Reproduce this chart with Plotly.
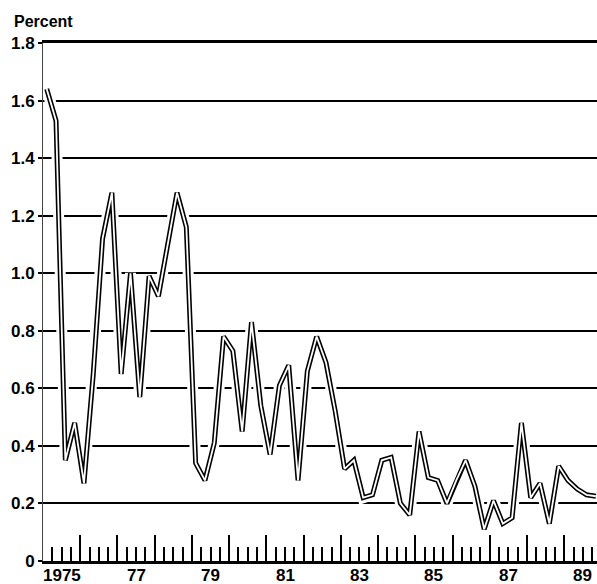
import plotly.graph_objects as go

# Quarterly data, 1975Q1 - 1989Q4 (percent)
years = list(range(1975, 1990))
quarters = [1, 2, 3, 4]
values = [
    1.64, 1.53, 0.35, 0.48,   # 1975
    0.27, 0.65, 1.12, 1.28,   # 1976
    0.65, 1.00, 0.57, 0.99,   # 1977
    0.92, 1.10, 1.28, 1.16,   # 1978
    0.34, 0.28, 0.41, 0.78,   # 1979
    0.73, 0.45, 0.83, 0.54,   # 1980
    0.37, 0.61, 0.68, 0.28,   # 1981
    0.66, 0.78, 0.69, 0.52,   # 1982
    0.32, 0.35, 0.22, 0.23,   # 1983
    0.35, 0.36, 0.20, 0.16,   # 1984
    0.45, 0.29, 0.28, 0.20,   # 1985
    0.28, 0.35, 0.26, 0.11,   # 1986
    0.21, 0.13, 0.15, 0.48,   # 1987
    0.22, 0.27, 0.13, 0.33,   # 1988
    0.28, 0.25, 0.23, 0.225,  # 1989
]
y_tickvals = [0, 0.2, 0.4, 0.6, 0.8, 1.0, 1.2, 1.4, 1.6, 1.8]
y_ticktext = ["0", "0.2", "0.4", "0.6", "0.8", "1.0", "1.2", "1.4", "1.6", "1.8"]
x_label_years = [1975, 1977, 1979, 1981, 1983, 1985, 1987, 1989]
x_label_text = ["1975", "77", "79", "81", "83", "85", "87", "89"]

# position each quarterly observation within its year
x = [yr + (q - 1) * 0.25 + 0.1 for yr in years for q in quarters]

FONT = "Liberation Sans, Arial, Helvetica, sans-serif"

fig = go.Figure()
# white halo that interrupts the gridlines around the line
fig.add_trace(go.Scatter(x=x, y=values, mode="lines",
                         line=dict(color="white", width=11), hoverinfo="skip"))
# hollow double line: thick black with white core
fig.add_trace(go.Scatter(x=x, y=values, mode="lines",
                         line=dict(color="black", width=5)))
fig.add_trace(go.Scatter(x=x, y=values, mode="lines",
                         line=dict(color="white", width=1.8), hoverinfo="skip"))

for yr, txt in zip(x_label_years, x_label_text):
    fig.add_annotation(x=yr + 0.5, y=0, xref="x", yref="paper", text=txt,
                       showarrow=False, yanchor="top", yshift=-3,
                       font=dict(family=FONT, size=17, color="black", weight="bold"))

fig.add_annotation(x=-0.056, y=1.042, xref="paper", yref="paper", text="Percent",
                   showarrow=False, xanchor="left", yanchor="middle",
                   font=dict(family=FONT, size=16, color="black", weight="bold"))

fig.update_layout(
    width=597, height=584,
    margin=dict(l=43, r=0, t=43, b=23),
    paper_bgcolor="white", plot_bgcolor="white",
    showlegend=False,
    xaxis=dict(range=[1975, 1989.88], showgrid=False, zeroline=False,
               showline=True, mirror=True, linecolor="black", linewidth=2.5,
               ticks="inside", tick0=1975, dtick=1, ticklen=26, tickwidth=2,
               tickcolor="black", showticklabels=False,
               minor=dict(ticks="inside", tick0=1975, dtick=0.25, ticklen=14,
                          tickwidth=2, tickcolor="black", showgrid=False)),
    yaxis=dict(range=[0, 1.8], tickvals=y_tickvals, ticktext=y_ticktext,
               showgrid=True, gridcolor="black", gridwidth=2.4, zeroline=False,
               showline=True, linecolor="#444", linewidth=1,
               ticks="outside", ticklen=4, tickwidth=1.5, tickcolor="black",
               tickfont=dict(family=FONT, size=17, color="black", weight="bold")),
)

fig.write_html("out.html", config={"displayModeBar": False},
               post_script="document.body.style.margin='0';document.body.style.padding='0';")
